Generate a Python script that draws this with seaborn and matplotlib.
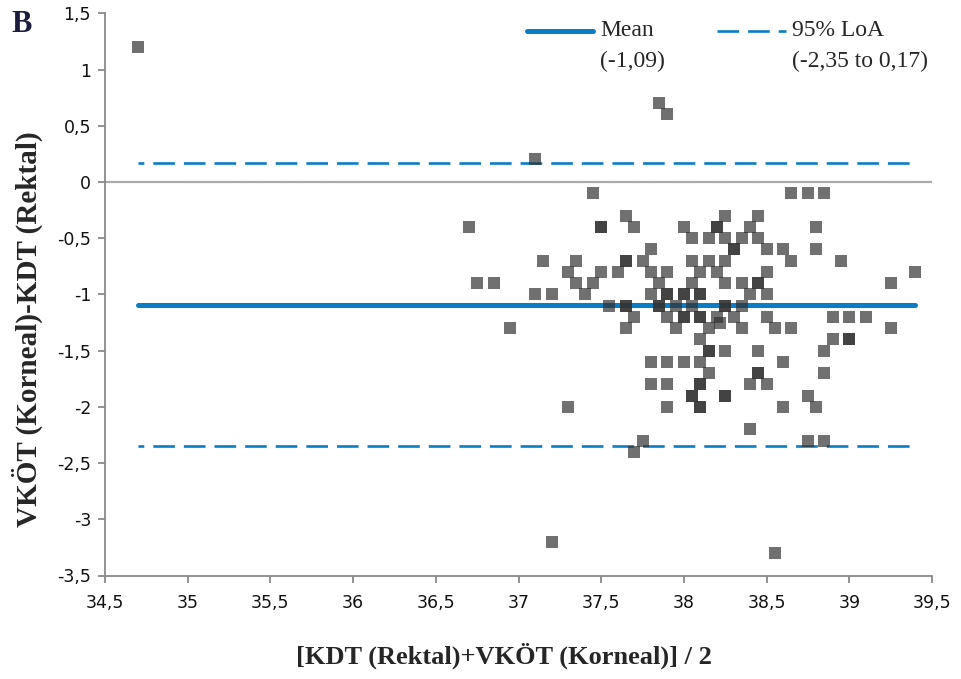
import matplotlib
matplotlib.use("Agg")
import matplotlib.pyplot as plt
import seaborn as sns
import pandas as pd
from matplotlib.lines import Line2D
from matplotlib.ticker import FuncFormatter, MultipleLocator

# ---- data: mean of the two measurements (x) and their difference (y) ----
mean_x = [
    34.7, 37.85, 37.9, 37.1, 37.45,
    38.65, 38.75, 38.85,
    37.65, 38.25, 38.45,
    36.7, 37.5, 37.5, 37.7, 38.0, 38.2, 38.2, 38.4, 38.8,
    38.05, 38.15, 38.25, 38.35, 38.45,
    37.8, 38.3, 38.3, 38.5, 38.6, 38.8,
    37.15, 37.35, 37.65, 37.65, 37.75, 38.05, 38.15, 38.25, 38.65, 38.95,
    37.3, 37.5, 37.6, 37.8, 37.9, 38.1, 38.2, 38.5, 39.4,
    36.75, 36.85, 37.35, 37.45, 37.85, 38.05, 38.25, 38.35, 38.45, 38.45, 39.25,
    37.1, 37.2, 37.4, 37.8, 37.9, 37.9, 38.0, 38.0, 38.1, 38.1, 38.4, 38.5,
    37.55, 37.65, 37.65, 37.85, 37.85, 37.95, 38.05, 38.25, 38.25, 38.35,
    37.7, 37.9, 38.0, 38.0, 38.1, 38.1, 38.2, 38.3, 38.5, 38.9, 39.0, 39.1,
    38.22,
    36.95, 37.65, 37.95, 38.15, 38.35, 38.55, 38.65, 39.25,
    38.1, 38.9, 39.0, 39.0,
    38.15, 38.15, 38.25, 38.45, 38.85,
    37.8, 37.9, 38.0, 38.1, 38.6,
    38.15, 38.45, 38.45, 38.85,
    37.8, 37.9, 38.1, 38.1, 38.4, 38.5,
    38.05, 38.05, 38.25, 38.25, 38.75,
    37.3, 37.9, 38.1, 38.1, 38.6, 38.8,
    38.4,
    37.75, 38.75, 38.85,
    37.7,
    37.2, 38.55,
]
diff_y = [
    1.2, 0.7, 0.6, 0.2, -0.1,
    -0.1, -0.1, -0.1,
    -0.3, -0.3, -0.3,
    -0.4, -0.4, -0.4, -0.4, -0.4, -0.4, -0.4, -0.4, -0.4,
    -0.5, -0.5, -0.5, -0.5, -0.5,
    -0.6, -0.6, -0.6, -0.6, -0.6, -0.6,
    -0.7, -0.7, -0.7, -0.7, -0.7, -0.7, -0.7, -0.7, -0.7, -0.7,
    -0.8, -0.8, -0.8, -0.8, -0.8, -0.8, -0.8, -0.8, -0.8,
    -0.9, -0.9, -0.9, -0.9, -0.9, -0.9, -0.9, -0.9, -0.9, -0.9, -0.9,
    -1.0, -1.0, -1.0, -1.0, -1.0, -1.0, -1.0, -1.0, -1.0, -1.0, -1.0, -1.0,
    -1.1, -1.1, -1.1, -1.1, -1.1, -1.1, -1.1, -1.1, -1.1, -1.1,
    -1.2, -1.2, -1.2, -1.2, -1.2, -1.2, -1.2, -1.2, -1.2, -1.2, -1.2, -1.2,
    -1.25,
    -1.3, -1.3, -1.3, -1.3, -1.3, -1.3, -1.3, -1.3,
    -1.4, -1.4, -1.4, -1.4,
    -1.5, -1.5, -1.5, -1.5, -1.5,
    -1.6, -1.6, -1.6, -1.6, -1.6,
    -1.7, -1.7, -1.7, -1.7,
    -1.8, -1.8, -1.8, -1.8, -1.8, -1.8,
    -1.9, -1.9, -1.9, -1.9, -1.9,
    -2.0, -2.0, -2.0, -2.0, -2.0, -2.0,
    -2.2,
    -2.3, -2.3, -2.3,
    -2.4,
    -3.2, -3.3,
]
mean_diff = -1.09
loa_low = -2.35
loa_high = 0.17
mean_label = ["Mean", "(-1,09)"]
loa_label = ["95% LoA", "(-2,35 to 0,17)"]
x_label = "[KDT (Rektal)+VKÖT (Korneal)] / 2"
y_label = "VKÖT (Korneal)-KDT (Rektal)"
panel_label = "B"

df = pd.DataFrame({"x": mean_x, "y": diff_y})

sns.set_style("white")
plt.rcParams["font.family"] = ["DejaVu Sans"]

W, H = 961, 679
fig = plt.figure(figsize=(W / 100, H / 100), dpi=100)
ax = fig.add_axes([105 / W, 1 - 575.5 / H, (932 - 105) / W, (575.5 - 13.3) / H])

blue = "#0B7DC4"
ax.axhline(0, color="#ababab", lw=1.6, zorder=1)
xmin, xmax = min(mean_x), max(mean_x)
ax.hlines(mean_diff, xmin, xmax, color=blue, lw=3.6, zorder=2, capstyle="round")
ax.hlines([loa_low, loa_high], xmin, xmax, color=blue, lw=1.9,
          linestyles=(6, (8.2, 3.4)), zorder=2)

sns.scatterplot(data=df, x="x", y="y", marker="s", s=72, color="#303030",
                alpha=0.69, linewidth=0, ax=ax, zorder=3, legend=False)

ax.set_xlim(34.5, 39.5)
ax.set_ylim(-3.5, 1.5)
ax.xaxis.set_major_locator(MultipleLocator(0.5))
ax.yaxis.set_major_locator(MultipleLocator(0.5))
fmt = FuncFormatter(lambda v, p: ("%g" % round(v, 2)).replace(".", ","))
ax.xaxis.set_major_formatter(fmt)
ax.yaxis.set_major_formatter(fmt)
ax.set_xlabel("")
ax.set_ylabel("")

for s in ["top", "right"]:
    ax.spines[s].set_visible(False)
for s in ["left", "bottom"]:
    ax.spines[s].set_color("#8a8a8a")
    ax.spines[s].set_linewidth(1.3)
ax.tick_params(axis="both", direction="out", length=5, width=1.3,
               color="#8a8a8a", labelsize=12.5, labelcolor="#111111", pad=5)
ax.tick_params(axis="x", bottom=True, pad=8)
ax.tick_params(axis="y", left=True)

serif = ["Liberation Serif", "DejaVu Serif"]
fig.text(503.5 / W, 1 - 656 / H, x_label, ha="center", va="center",
         fontsize=19, fontweight="bold", family=serif)
fig.text(27 / W, 1 - 329 / H, y_label, ha="center", va="center",
         rotation=90, fontsize=21, fontweight="bold", family=serif)
fig.text(22 / W, 1 - 24 / H, panel_label, ha="center", va="center",
         fontsize=22, fontweight="bold", family=serif, color="#1c1c3c")

# legend (manual, matching the reference layout)
fig.add_artist(Line2D([527 / W, 593 / W], [1 - 30.7 / H] * 2, color=blue, lw=3.6,
                      solid_capstyle="round", transform=fig.transFigure))
fig.add_artist(Line2D([717 / W, 786 / W], [1 - 30.7 / H] * 2, color=blue, lw=1.9,
                      linestyle=(0, (8.2, 3.4)), transform=fig.transFigure))
fig.text(600 / W, 1 - 30.7 / H, mean_label[0], ha="left", va="center",
         fontsize=17, family=serif)
fig.text(600 / W, 1 - 61 / H, mean_label[1], ha="left", va="center",
         fontsize=17, family=serif)
fig.text(792.5 / W, 1 - 30.7 / H, loa_label[0], ha="left", va="center",
         fontsize=17, family=serif)
fig.text(792.5 / W, 1 - 61 / H, loa_label[1], ha="left", va="center",
         fontsize=17, family=serif)

fig.savefig("out.png", dpi=100)
